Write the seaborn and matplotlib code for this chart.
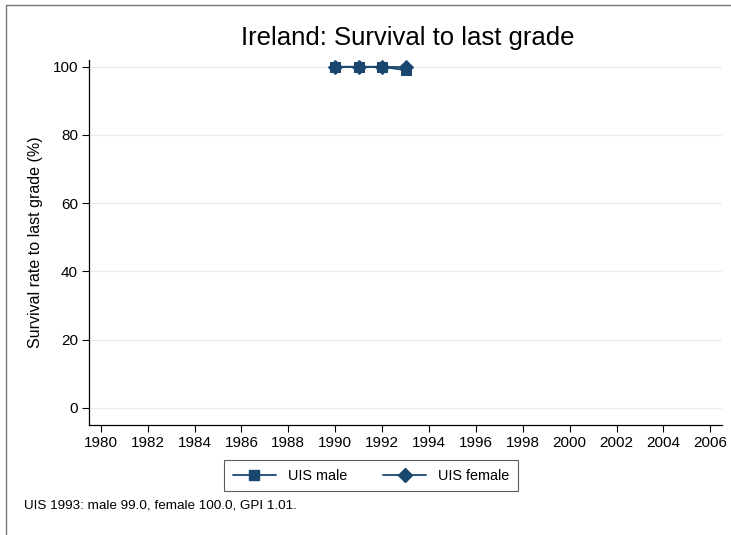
import seaborn as sns
import matplotlib.pyplot as plt
import pandas as pd
from matplotlib.lines import Line2D

years = [1990, 1991, 1992, 1993]
male = [100.0, 100.0, 100.0, 99.0]
female = [100.0, 100.0, 100.0, 100.0]
xticks = list(range(1980, 2007, 2))
yticks = [0, 20, 40, 60, 80, 100]

navy = "#1a476f"

sns.set_theme(style="white")
plt.rcParams["font.family"] = ["Liberation Sans", "DejaVu Sans"]
plt.rcParams["text.color"] = "black"
plt.rcParams["xtick.color"] = "black"
plt.rcParams["ytick.color"] = "black"
plt.rcParams["axes.labelcolor"] = "black"

df = pd.DataFrame({"year": years + years,
                   "value": male + female,
                   "series": ["UIS male"] * 4 + ["UIS female"] * 4})

fig = plt.figure(figsize=(7.31, 5.35), dpi=100)
ax = fig.add_axes([0.1218, 0.2056, 0.8659, 0.6824])

for ticky in yticks:
    ax.axhline(ticky, color="#e6eef1", lw=0.9, zorder=0)

sns.lineplot(data=df[df.series == "UIS male"], x="year", y="value", ax=ax,
             color=navy, marker="s", markersize=7, markeredgecolor=navy, lw=1.3)
sns.lineplot(data=df[df.series == "UIS female"], x="year", y="value", ax=ax,
             color=navy, marker="D", markersize=7, markeredgecolor=navy, lw=1.3)

ax.set_xlim(1979.5, 2006.5)
ax.set_ylim(-5, 102)
ax.set_xticks(xticks)
ax.set_yticks(yticks)
ax.tick_params(axis="both", labelsize=11, length=5, width=0.8, color="black",
               direction="out", bottom=True, left=True, pad=3)
for side in ["top", "right"]:
    ax.spines[side].set_visible(False)
for side in ["left", "bottom"]:
    ax.spines[side].set_color("black")
    ax.spines[side].set_linewidth(0.9)
ax.set_xlabel("")
ax.set_ylabel("Survival rate to last grade (%)", fontsize=11.5, labelpad=7)

fig.text(0.558, 0.929, "Ireland: Survival to last grade", ha="center",
         va="center", fontsize=18.5)

handles = [Line2D([], [], color=navy, marker="s", markersize=7, lw=1.3),
           Line2D([], [], color=navy, marker="D", markersize=7, lw=1.3)]
leg = fig.legend(handles, ["UIS male", "UIS female"], loc="center",
                 bbox_to_anchor=(0.5075, 0.111), ncol=2, frameon=True,
                 fancybox=False, edgecolor="#333333", fontsize=10.4,
                 handlelength=3, columnspacing=2.5, borderpad=0.6)
leg.get_frame().set_linewidth(0.8)

fig.text(0.033, 0.056, "UIS 1993: male 99.0, female 100.0, GPI 1.01.",
         fontsize=9.7, va="center")

fig.add_artist(Line2D([6 / 731, 6 / 731], [0, 1 - 5 / 535],
                      transform=fig.transFigure, color="#777777", lw=1))
fig.add_artist(Line2D([6 / 731, 1], [1 - 5 / 535, 1 - 5 / 535],
                      transform=fig.transFigure, color="#777777", lw=1))

fig.savefig("out.png", dpi=100)
